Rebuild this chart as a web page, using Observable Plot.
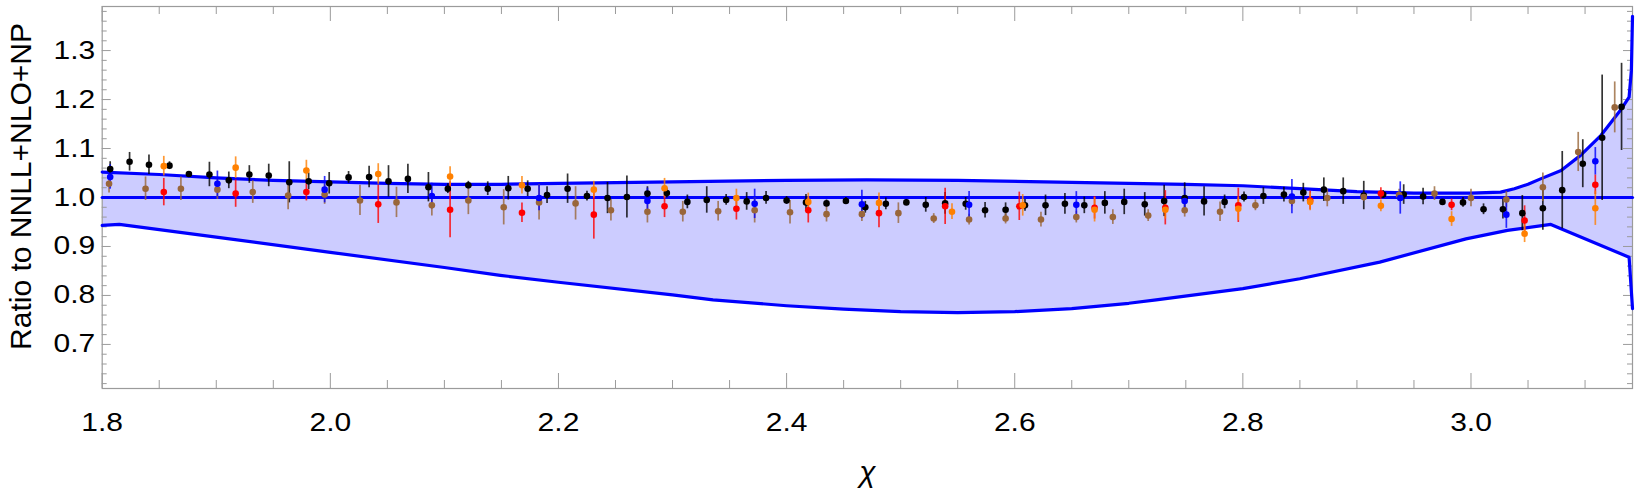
<!DOCTYPE html>
<html><head><meta charset="utf-8">
<script src="https://cdn.jsdelivr.net/npm/d3@7"></script>
<script src="https://cdn.jsdelivr.net/npm/@observablehq/plot@0.6"></script>
<style>body{margin:0;background:#fff;}</style>
</head><body><div id="chart"></div>
<script>
// ---- data ----
const blackX = [1.807,1.824,1.841,1.859,1.876,1.894,1.911,1.929,1.946,1.964,1.981,1.999,2.016,
2.034,2.051,2.068,2.086,2.103,2.121,2.138,2.156,2.173,2.190,2.208,2.225,2.243,
2.260,2.278,2.295,2.313,2.330,2.347,2.365,2.382,2.400,2.417,2.435,2.452,2.469,
2.487,2.505,2.522,2.539,2.557,2.574,2.592,2.609,2.627,2.644,2.661,2.679,
2.696,2.714,2.731,2.749,2.766,2.784,2.801,2.818,2.836,2.853,2.871,2.888,2.906,
2.923,2.941,2.958,2.975,2.993,3.011,3.028,3.045,3.063,3.080,3.098,3.115,3.132];
const blackY = [1.058,1.073,1.067,1.065,1.048,1.047,1.035,1.047,1.045,1.031,1.033,1.029,1.041,
1.042,1.033,1.038,1.021,1.018,1.025,1.018,1.019,1.018,1.005,1.018,1.003,0.999,
1.001,1.008,1.009,0.991,0.995,0.995,0.992,0.999,0.994,0.990,0.988,0.993,0.980,
0.987,0.990,0.985,0.988,0.987,0.974,0.975,0.984,0.984,0.987,0.984,0.989,
0.991,0.986,0.993,0.999,0.992,0.991,1.001,1.003,1.006,1.010,1.016,1.013,1.004,
1.006,1.006,1.002,0.991,0.990,0.976,0.976,0.968,0.978,1.015,1.069,1.122,1.185];
const blackErr = [0.015,0.019,0.020,0.008,0.005,0.025,0.017,0.018,0.023,0.042,0.017,0.022,0.012,
0.022,0.032,0.030,0.030,0.010,0.008,0.014,0.024,0.016,0.017,0.030,0.010,0.032,
0.043,0.014,0.010,0.014,0.027,0.011,0.018,0.013,0.008,0.016,0.007,0.007,0.012,
0.012,0.006,0.015,0.022,0.013,0.016,0.014,0.012,0.021,0.021,0.017,0.023,
0.026,0.024,0.032,0.031,0.030,0.014,0.010,0.017,0.015,0.019,0.024,0.027,0.029,
0.008,0.020,0.017,0.005,0.010,0.011,0.020,0.036,0.045,0.079,0.049,0.128,0.089];

const brownX = [1.806,1.838,1.869,1.901,1.932,1.963,1.995,2.026,2.058,2.089,2.121,2.152,2.183,2.215,2.246,
2.278,2.309,2.340,2.372,2.403,2.435,2.466,2.498,2.529,2.560,2.592,2.623,2.654,2.686,2.717,
2.749,2.780,2.811,2.843,2.874,2.906,2.937,2.968,3.000,3.031,3.063,3.094,3.126];
const brownY = [1.028,1.018,1.018,1.016,1.011,1.004,1.006,0.994,0.990,0.984,0.994,0.980,0.990,0.988,0.974,
0.971,0.971,0.972,0.974,0.970,0.966,0.966,0.968,0.957,0.955,0.957,0.955,0.960,0.960,0.963,
0.974,0.971,0.984,0.993,0.999,1.001,1.005,1.008,0.999,0.996,1.021,1.093,1.184];
const brownErr = [0.019,0.024,0.024,0.020,0.023,0.029,0.020,0.031,0.031,0.022,0.029,0.036,0.036,0.034,0.022,
0.023,0.021,0.020,0.026,0.024,0.016,0.015,0.021,0.010,0.011,0.011,0.015,0.012,0.015,0.012,
0.014,0.020,0.011,0.012,0.018,0.009,0.012,0.014,0.018,0.016,0.029,0.040,0.052];

const redX = [1.854,1.917,1.979,2.042,2.105,2.168,2.231,2.293,2.356,2.419,2.481,2.539,2.604,2.670,2.732,2.796,2.859,2.921,2.983,3.047,3.109];
const redY = [1.011,1.008,1.011,0.986,0.975,0.969,0.965,0.982,0.977,0.974,0.968,0.982,0.982,0.979,0.979,0.984,0.994,1.008,0.985,0.953,1.026];
const redErr = [0.028,0.028,0.018,0.039,0.057,0.020,0.050,0.023,0.023,0.026,0.030,0.037,0.029,0.023,0.035,0.035,0.019,0.012,0.012,0.030,0.020];

const orangeX = [1.854,1.917,1.979,2.042,2.105,2.168,2.231,2.293,2.356,2.419,2.481,2.545,2.607,2.670,2.732,2.796,2.859,2.921,2.983,3.047,3.109];
const orangeY = [1.064,1.061,1.055,1.048,1.043,1.025,1.016,1.019,0.999,0.991,0.989,0.971,0.984,0.975,0.975,0.977,0.991,0.983,0.956,0.926,0.978];
const orangeErr = [0.020,0.022,0.021,0.021,0.020,0.018,0.017,0.020,0.018,0.018,0.020,0.016,0.022,0.025,0.019,0.024,0.018,0.012,0.015,0.018,0.035];

const blueX = [1.807,1.901,1.995,2.089,2.183,2.278,2.372,2.466,2.560,2.654,2.749,2.843,2.938,3.031,3.109];
const blueY = [1.042,1.028,1.016,1.003,0.999,0.993,0.987,0.986,0.985,0.985,0.993,1.002,0.999,0.965,1.074];
const blueErr = [0.025,0.026,0.027,0.026,0.026,0.026,0.030,0.029,0.027,0.027,0.025,0.035,0.033,0.028,0.028];

const upperX = [1.8,1.85,1.9,1.95,2.0,2.05,2.1,2.15,2.2,2.3,2.4,2.47,2.55,2.65,2.7,2.75,2.8,2.85,2.9,2.95,3.0,3.026,3.038,3.05,3.061,3.079,3.096,3.114,3.131,3.1386,3.1406,3.1416];
const upperY = [1.052,1.047,1.040,1.035,1.032,1.029,1.027,1.027,1.029,1.032,1.035,1.036,1.035,1.031,1.029,1.027,1.024,1.018,1.012,1.009,1.009,1.011,1.018,1.027,1.038,1.055,1.086,1.127,1.178,1.205,1.259,1.370];
const lowerX = [1.8,1.815,1.9,2.0,2.1,2.149,2.2,2.3,2.3355,2.4,2.45,2.5,2.55,2.6,2.65,2.7,2.724,2.8,2.85,2.92,2.9956,3.032,3.07,3.1386,3.1416];
const lowerY = [0.943,0.945,0.919,0.888,0.857,0.841,0.827,0.801,0.791,0.779,0.772,0.767,0.765,0.767,0.773,0.784,0.791,0.814,0.834,0.868,0.9156,0.933,0.945,0.878,0.773];
const centralX = [1.8, 3.1416];
const centralY = [1.0, 1.0];

const xTickValues = [1.8,2.0,2.2,2.4,2.6,2.8,3.0];
const yTickValues = [0.7,0.8,0.9,1.0,1.1,1.2,1.3];
const yLabel = "Ratio to NNLL+NLO+NP";
const xLabel = "χ";

// ---- build tables ----
const series = (xs, ys, es) => xs.map((x, i) => ({x, y: ys[i], e: es[i]}));
const black = series(blackX, blackY, blackErr);
const brown = series(brownX, brownY, brownErr);
const red = series(redX, redY, redErr);
const orange = series(orangeX, orangeY, orangeErr);
const blue = series(blueX, blueY, blueErr);
const upper = upperX.map((x, i) => ({x, y: upperY[i]}));
const lower = lowerX.map((x, i) => ({x, y: lowerY[i]}));
const central = centralX.map((x, i) => ({x, y: centralY[i]}));
const band = upper.concat(lower.slice().reverse());

const xMinor = d3.range(1.85, 3.15, 0.05).filter(v => v <= Math.PI && Math.abs(v * 5 - Math.round(v * 5)) > 1e-6);
const yMinor = d3.range(0.62, 1.39, 0.02).filter(v => Math.abs(v * 10 - Math.round(v * 10)) > 1e-6);

const innerW = 1639 - 101.7 - 7, innerH = 490 - 6 - 102;
const frameCol = "#9b9b9b";
const bandCol = "#0000ff";

const seriesList = [[black, "#000000"], [brown, "#99663a"], [red, "#ff0000"], [orange, "#ff8000"], [blue, "#0000ff"]];
const bars = seriesList.map(([data, color]) =>
  Plot.ruleX(data, {x: "x", y1: d => d.y - d.e, y2: d => d.y + d.e, stroke: color, strokeWidth: 1.7, strokeOpacity: 0.8}));
const dots = seriesList.map(([data, color]) =>
  Plot.dot(data, {x: "x", y: "y", r: 3.3, fill: color, stroke: "none"}));

const chart = Plot.plot({
  width: 1639, height: 490,
  marginTop: 6, marginBottom: 102, marginLeft: 101.7, marginRight: 7,
  x: {domain: [1.8, Math.PI]},
  y: {domain: [0.61, 1.39]},
  style: {fontFamily: "'Liberation Sans', Arial, sans-serif", background: "#fff", color: "#000"},
  marks: [
    Plot.line(band, {x: "x", y: "y", fill: "#ccccff", stroke: "none", curve: "linear"}),
    Plot.frame({stroke: frameCol, strokeWidth: 1.2}),
    // inward ticks, bottom & top
    Plot.tickX(xMinor, {x: d => d, stroke: frameCol, insetTop: innerH - 8}),
    Plot.tickX(xTickValues, {x: d => d, stroke: frameCol, insetTop: innerH - 15}),
    Plot.tickX(xMinor, {x: d => d, stroke: frameCol, insetBottom: innerH - 8}),
    Plot.tickX(xTickValues, {x: d => d, stroke: frameCol, insetBottom: innerH - 15}),
    // inward ticks, left & right
    Plot.tickY(yMinor, {y: d => d, stroke: frameCol, insetRight: innerW - 5}),
    Plot.tickY(yTickValues, {y: d => d, stroke: frameCol, insetRight: innerW - 9}),
    Plot.tickY(yMinor, {y: d => d, stroke: frameCol, insetLeft: innerW - 5}),
    Plot.tickY(yTickValues, {y: d => d, stroke: frameCol, insetLeft: innerW - 9}),
    Plot.axisX({ticks: xTickValues, tickFormat: d3.format(".1f"), tickSize: 0, tickPadding: 25, fontSize: 25, label: null}),
    Plot.axisY({ticks: yTickValues, tickFormat: d3.format(".1f"), tickSize: 0, tickPadding: 7, fontSize: 25, label: null}),
    Plot.text([yLabel], {text: d => d, frameAnchor: "left", textAnchor: "middle", dx: -81, dy: -11, rotate: -90, fontSize: 30}),
    Plot.text([xLabel], {text: d => d, frameAnchor: "bottom", textAnchor: "middle", dy: 93, fontSize: 30, fontStyle: "italic"}),
    Plot.line(upper, {x: "x", y: "y", stroke: bandCol, strokeWidth: 3.2}),
    Plot.line(lower, {x: "x", y: "y", stroke: bandCol, strokeWidth: 3.2}),
    Plot.line(central, {x: "x", y: "y", stroke: bandCol, strokeWidth: 3.2}),
    ...bars,
    ...dots
  ]
});

// widen tick label glyphs like the reference rendering
chart.querySelectorAll('g[aria-label="x-axis tick label"] text, g[aria-label="y-axis tick label"] text').forEach(t => {
  const x = +t.getAttribute("x") || 0;
  const prev = t.getAttribute("transform") || "";
  t.setAttribute("transform", `${prev} translate(${x},0) scale(1.2,1) translate(${-x},0)`);
});

document.getElementById("chart").appendChild(chart);
</script>
</body></html>
